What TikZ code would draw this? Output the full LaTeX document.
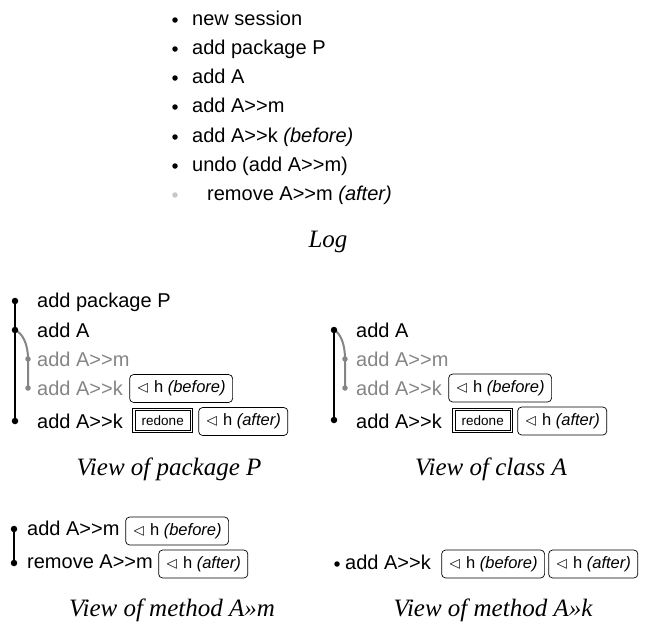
\documentclass[tikz,border=0pt]{standalone}
\usepackage{amssymb}
\usepackage{fontspec}
\setmainfont{Liberation Sans}[Ligatures=TeXOff]
\newfontfamily\capfont{Liberation Serif}
\definecolor{gtext}{gray}{0.52}
\definecolor{glight}{gray}{0.78}
\begin{document}
\begin{tikzpicture}[x=1pt,y=-1pt,
 txt/.style={anchor=base west, inner sep=0pt, font=\fontsize{20}{22}\selectfont},
 gtxt/.style={txt, text=gtext},
 captxt/.style={anchor=base, inner sep=0pt, font=\capfont\itshape\fontsize{25}{28}\selectfont},
 hbox/.style={draw, rounded corners=4pt, line width=0.7pt, anchor=west, minimum height=28pt, inner xsep=7pt, inner ysep=0pt, font=\fontsize{16.5}{18}\selectfont},
 rbox/.style={draw, line width=0.7pt, anchor=west, minimum height=24.3pt, minimum width=60pt, inner sep=0pt, font=\fontsize{13.5}{15}\selectfont},
 rinner/.style={line width=0.7pt},
 dotb/.style={circle, fill=black, inner sep=0pt, minimum size=6.5pt},
 dotg/.style={circle, fill=gtext, inner sep=0pt, minimum size=5.5pt},
 bul/.style={circle, fill=black, inner sep=0pt, minimum size=5.5pt},
 bulg/.style={circle, fill=glight, inner sep=0pt, minimum size=5.5pt},
 bline/.style={line width=2.4pt, black},
 gline/.style={line width=2pt, gtext},
]
\useasboundingbox (0,0) rectangle (646,625);
\newcommand{\hb}[1]{$\lhd$ h \textit{(#1)}}
\newcommand{\innerbox}[1]{\draw[rinner] ([xshift=2.8pt,yshift=-2.8pt]#1.north west) rectangle ([xshift=-2.8pt,yshift=2.8pt]#1.south east);}

% ---------- Log ----------
\node[bul] (l1) at (175,20) {};
\node[bul] (l2) at (175,49) {};
\node[bul] (l3) at (175,78) {};
\node[bul] (l4) at (175,107) {};
\node[bul] (l5) at (175,137) {};
\node[bul] (l6) at (175,166) {};
\node[bulg] (l7) at (175,195) {};
\node[txt] (lt1) at (192,25) {new session};
\node[txt] (lt2) at (192,54) {add package P};
\node[txt] (lt3) at (192,83) {add A};
\node[txt] (lt4) at (192,112) {add A>>m};
\node[txt] (lt5) at (192,142) {add A>>k \textit{(before)}};
\node[txt] (lt6) at (192,171) {undo (add A>>m)};
\node[txt] (lt7) at (207,200) {remove A>>m \textit{(after)}};
\node[captxt] (logcap) at (328,247) {Log};

% ---------- View of package P ----------
\coordinate (p1) at (15,301);
\coordinate (p2) at (15,330);
\coordinate (p3) at (28,359);
\coordinate (p4) at (28,388);
\coordinate (p5) at (15,421);
\draw[bline] (p1) -- (p5);
\draw[gline] (p2) .. controls (22,333) and (28,343) .. (p3) -- (p4);
\node[dotb] (pd1) at (p1) {};
\node[dotb] (pd2) at (p2) {};
\node[dotg] (pd3) at (p3) {};
\node[dotg] (pd4) at (p4) {};
\node[dotb] (pd5) at (p5) {};
\node[txt] (pt1) at (37,307) {add package P};
\node[txt] (pt2) at (37,337) {add A};
\node[gtxt] (pt3) at (37,366) {add A>>m};
\node[gtxt] (pt4) at (37,395) {add A>>k};
\node[txt] (pt5) at (37,428) {add A>>k};
\node[hbox] (pb1) at (129.3,388.5) {\hb{before}};
\node[rbox] (pr1) at (132.4,420.5) {redone};
\innerbox{pr1}
\node[hbox] (pb2) at (198.3,421.5) {\hb{after}};
\node[captxt] (pcap) at (169,475) {View of package P};

% ---------- View of class A ----------
\coordinate (c2) at (334,330);
\coordinate (c3) at (345,359);
\coordinate (c4) at (345,388);
\coordinate (c5) at (334,420);
\draw[bline] (c2) -- (c5);
\draw[gline] (c2) .. controls (340,333) and (345,343) .. (c3) -- (c4);
\node[dotb] (cd2) at (c2) {};
\node[dotg] (cd3) at (c3) {};
\node[dotg] (cd4) at (c4) {};
\node[dotb] (cd5) at (c5) {};
\node[txt] (ct2) at (356,337) {add A};
\node[gtxt] (ct3) at (356,366) {add A>>m};
\node[gtxt] (ct4) at (356,395) {add A>>k};
\node[txt] (ct5) at (356,428) {add A>>k};
\node[hbox] (cb1) at (448.3,388) {\hb{before}};
\node[rbox] (cr1) at (452.4,420.5) {redone};
\innerbox{cr1}
\node[hbox] (cb2) at (517.3,421) {\hb{after}};
\node[captxt] (ccap) at (491,475) {View of class A};

% ---------- View of method A>>m ----------
\coordinate (m1) at (14,529);
\coordinate (m2) at (14,563);
\draw[bline] (m1) -- (m2);
\node[dotb] (md1) at (m1) {};
\node[dotb] (md2) at (m2) {};
\node[txt] (mt1) at (27,535) {add A>>m};
\node[txt] (mt2) at (27,568) {remove A>>m};
\node[hbox] (mb1) at (125.3,531) {\hb{before}};
\node[hbox] (mb2) at (158.3,564) {\hb{after}};
\node[captxt] (mcap) at (172,616) {View of method A»m};

% ---------- View of method A>>k ----------
\node[bul] (kd1) at (337,564) {};
\node[txt] (kt1) at (345,569) {add A>>k};
\node[hbox] (kb1) at (441.3,564) {\hb{before}};
\node[hbox] (kb2) at (548.3,564) {\hb{after}};
\node[captxt] (kcap) at (493,616) {View of method A»k};
\end{tikzpicture}
\end{document}
